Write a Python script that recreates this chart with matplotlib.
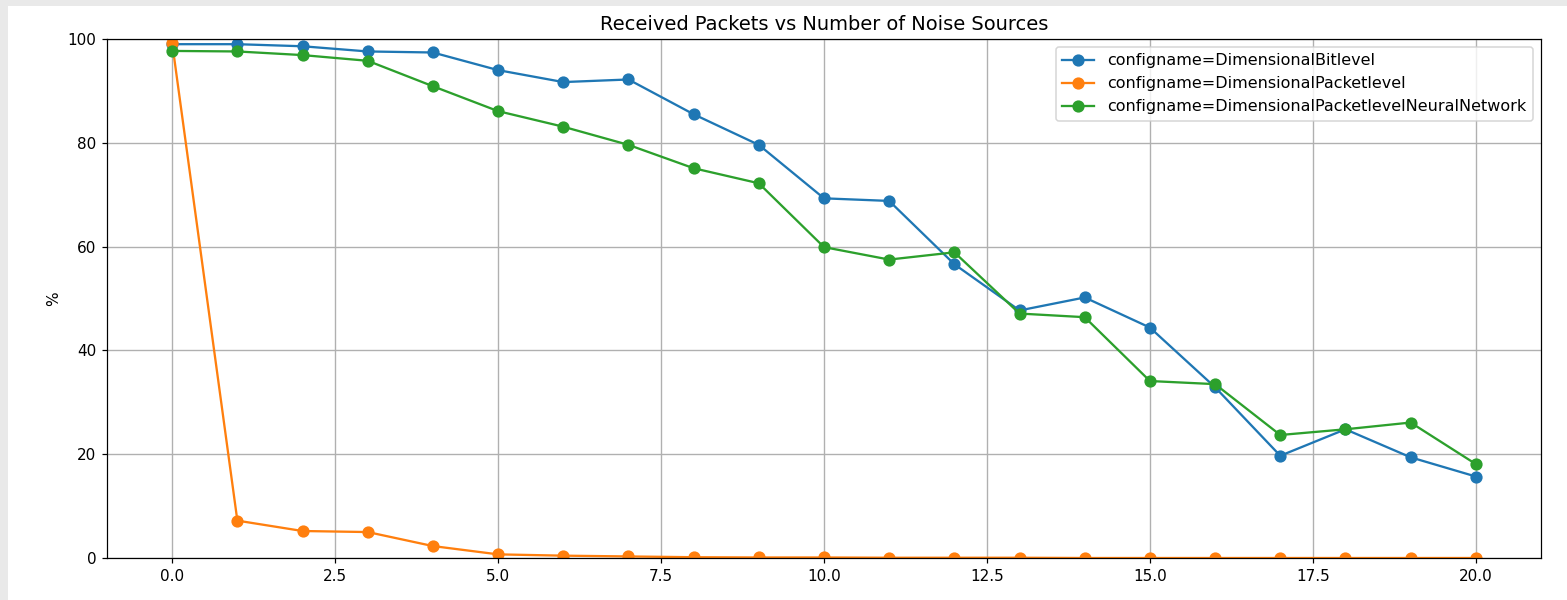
import numpy as np
import matplotlib
matplotlib.use("Agg")
from matplotlib import pyplot as plt
from matplotlib.patches import Rectangle

noise_sources = list(range(21))

bitlevel = [99.0, 99.0, 98.6, 97.6, 97.4, 94.0, 91.7, 92.2, 85.5, 79.6, 69.3,
            68.8, 56.6, 47.7, 50.2, 44.4, 32.9, 19.7, 24.8, 19.4, 15.7]
packetlevel = [99.2, 7.2, 5.2, 5.0, 2.3, 0.7, 0.45, 0.3, 0.15, 0.1, 0.1,
               0.05, 0.05, 0.05, 0.0, 0.0, 0.0, 0.0, 0.0, 0.0, 0.0]
neural = [97.7, 97.6, 96.9, 95.8, 90.9, 86.1, 83.1, 79.6, 75.1, 72.2, 59.9,
          57.5, 58.9, 47.1, 46.4, 34.1, 33.5, 23.7, 24.8, 26.1, 18.1]

labels = ["configname=DimensionalBitlevel",
          "configname=DimensionalPacketlevel",
          "configname=DimensionalPacketlevelNeuralNetwork"]


def main():
    dpi = 110
    fig = plt.figure(figsize=(1567 / dpi, 600 / dpi), dpi=dpi)
    fig.patch.set_facecolor("#e9e9e9")
    # white page inside the grey screenshot border
    fig.patches.append(Rectangle((8 / 1567, 0), 1, 1 - 6 / 600,
                                 transform=fig.transFigure,
                                 facecolor="white", edgecolor="none",
                                 zorder=-10))
    ax = fig.add_axes([107 / 1567, 1 - 558 / 600,
                       (1541 - 107) / 1567, (558 - 39) / 600])

    for series, lab in zip([bitlevel, packetlevel, neural], labels):
        ax.plot(noise_sources, series, "o-", label=lab, markersize=7,
                linewidth=1.5)

    ax.set_xlim(-1, 21)
    ax.set_ylim(0, 100)
    ax.set_xticks(np.arange(0, 20.1, 2.5))
    ax.grid(True, color="#b0b0b0", linewidth=0.9)
    ax.set_axisbelow(True)
    ax.set_ylabel("%")
    ax.set_title("Received Packets vs Number of Noise Sources", fontsize=12.7)
    ax.legend(loc="upper right", fontsize=10.5)

    fig.savefig("out.png", dpi=dpi, facecolor=fig.get_facecolor())


if __name__ == "__main__":
    main()
